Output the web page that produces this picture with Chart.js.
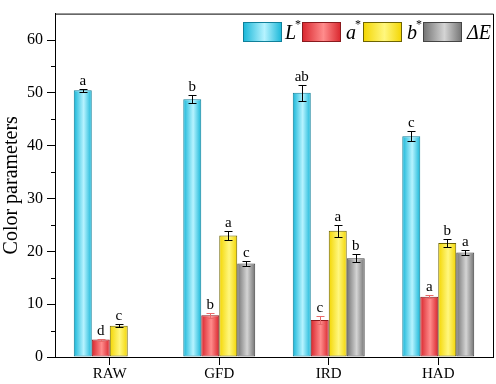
<!DOCTYPE html>
<html>
<head>
<meta charset="utf-8">
<script src="https://cdn.jsdelivr.net/npm/chart.js@4/dist/chart.umd.min.js"></script>
<style>
  html, body { margin: 0; padding: 0; background: #fff; }
</style>
</head>
<body>
<canvas id="chart" width="496" height="384"></canvas>
<script>
// Data
const categories = ['RAW', 'GFD', 'IRD', 'HAD'];
const seriesNames = ['L', 'a', 'b', 'ΔE'];
const lValues = [50.5, 48.8, 50.0, 41.8];
const aValues = [3.3, 7.9, 7.0, 11.4];
const bValues = [5.9, 23.0, 23.9, 21.6];
const eValues = [null, 17.7, 18.7, 19.8];
const lErrors = [0.3, 0.8, 1.5, 0.95];
const aErrors = [0.2, 0.5, 0.8, 0.3];
const bErrors = [0.3, 0.8, 1.1, 0.8];
const eErrors = [0, 0.55, 0.8, 0.5];
const lLetters = ['a', 'b', 'ab', 'c'];
const aLetters = ['d', 'b', 'c', 'a'];
const bLetters = ['c', 'a', 'a', 'b'];
const eLetters = ['', 'c', 'b', 'a'];
const yTicks = [0, 10, 20, 30, 40, 50, 60];
const yMinorTicks = [5, 15, 25, 35, 45, 55];

const catPct = 0.657;
const serif = "'Liberation Serif', 'DejaVu Serif', serif";

// Bar colours: [edge, centre, border, error bar]
const palette = [
  ['#16b6d8', '#b6f3ff', '#10809a', '#000'],
  ['#d9252c', '#ff8c8c', '#8a1a1e', '#e86a6a'],
  ['#f3d500', '#fff77e', '#6e6400', '#000'],
  ['#727272', '#d4d4d4', '#454545', '#000']
];
// legend box left edges
const legendX = [243, 302, 363, 423];

function barGradient(ctx, x0, x1, colors) {
  const g = ctx.createLinearGradient(x0, 0, x1, 0);
  g.addColorStop(0, colors[0]);
  g.addColorStop(0.55, colors[1]);
  g.addColorStop(1, colors[0]);
  return g;
}

function makeFill(dsIndex) {
  return function (c) {
    const xs = c.chart.scales && c.chart.scales.x;
    if (c.type !== 'data' || !xs) return palette[dsIndex][0];
    const w = (xs.width / categories.length) * catPct / seriesNames.length;
    const center = xs.getPixelForValue(c.dataIndex) + (dsIndex - 1.5) * w;
    if (!isFinite(center) || !isFinite(w) || w <= 0) return palette[dsIndex][0];
    return barGradient(c.chart.ctx, center - w / 2, center + w / 2, palette[dsIndex]);
  };
}

const allValues = [lValues, aValues, bValues, eValues];
const allErrors = [lErrors, aErrors, bErrors, eErrors];
const allLetters = [lLetters, aLetters, bLetters, eLetters];

// Error bars and significance letters
const errorBarPlugin = {
  id: 'errorBars',
  afterDatasetsDraw(chart) {
    const ctx = chart.ctx;
    const ys = chart.scales.y;
    ctx.save();
    chart.data.datasets.forEach((ds, di) => {
      const meta = chart.getDatasetMeta(di);
      meta.data.forEach((el, i) => {
        const v = allValues[di][i];
        if (v === null) return;
        const e = allErrors[di][i];
        const x = Math.round(el.x) + 0.5;
        const yt = Math.round(ys.getPixelForValue(v + e)) + 0.5;
        const yb = Math.round(ys.getPixelForValue(v - e)) + 0.5;
        ctx.strokeStyle = palette[di][3];
        ctx.lineWidth = 1;
        ctx.beginPath();
        ctx.moveTo(x, yt); ctx.lineTo(x, yb);
        ctx.moveTo(x - 4, yt); ctx.lineTo(x + 4, yt);
        ctx.moveTo(x - 4, yb); ctx.lineTo(x + 4, yb);
        ctx.stroke();
        ctx.fillStyle = '#000';
        ctx.font = '15px ' + serif;
        ctx.textAlign = 'center';
        ctx.textBaseline = 'bottom';
        ctx.fillText(allLetters[di][i], el.x, yt - 1);
      });
    });
    ctx.restore();
  }
};

// Frame, minor ticks and legend
const framePlugin = {
  id: 'frame',
  afterDraw(chart) {
    const ctx = chart.ctx;
    const a = chart.chartArea;
    const ys = chart.scales.y;
    ctx.save();
    ctx.strokeStyle = '#000';
    ctx.lineWidth = 1;
    ctx.beginPath();
    ctx.moveTo(a.left, a.top + 0.5); ctx.lineTo(a.right + 0.5, a.top + 0.5);
    ctx.lineTo(a.right + 0.5, a.bottom);
    yMinorTicks.forEach(v => {
      const y = Math.round(ys.getPixelForValue(v)) + 0.5;
      ctx.moveTo(a.left - 4, y); ctx.lineTo(a.left, y);
    });
    ctx.stroke();

    // legend
    const y0 = 22, bw = 39, bh = 20;
    seriesNames.forEach((name, di) => {
      let x = legendX[di];
      ctx.fillStyle = barGradient(ctx, x, x + bw, palette[di]);
      ctx.fillRect(x, y0, bw, bh);
      ctx.strokeStyle = palette[di][2];
      ctx.strokeRect(x + 0.5, y0 + 0.5, bw - 1, bh - 1);
      x += bw + (name === 'L' ? 3 : 5);
      ctx.fillStyle = '#000';
      ctx.textAlign = 'left';
      ctx.textBaseline = 'alphabetic';
      ctx.font = 'italic 20px ' + serif;
      ctx.fillText(name, x, y0 + 17);
      x += ctx.measureText(name).width;
      if (name !== 'ΔE') {
        ctx.font = '12px ' + serif;
        ctx.fillText('*', x - 1, y0 + 6);
      }
    });
    ctx.restore();
  }
};

const chart = new Chart(document.getElementById('chart'), {
  type: 'bar',
  data: {
    labels: categories,
    datasets: seriesNames.map((name, di) => ({
      label: name,
      data: allValues[di],
      backgroundColor: makeFill(di),
      borderColor: palette[di][2],
      borderWidth: 1,
      borderSkipped: false,
      barPercentage: 1,
      categoryPercentage: catPct
    }))
  },
  options: {
    responsive: false,
    animation: false,
    devicePixelRatio: 1,
    layout: { padding: { top: 4, right: 3, left: 0, bottom: 0 } },
    plugins: {
      legend: { display: false },
      tooltip: { enabled: false }
    },
    scales: {
      x: {
        offset: true,
        grid: { drawOnChartArea: false, drawTicks: true, tickLength: 8, tickColor: '#000', offset: false },
        border: { color: '#000', width: 1 },
        ticks: { color: '#000', font: { family: serif, size: 15 }, padding: 0 },
        afterFit(scale) { scale.height = 27; }
      },
      y: {
        min: 0,
        max: 65,
        afterBuildTicks(scale) { scale.ticks = yTicks.map(v => ({ value: v })); },
        grid: { drawOnChartArea: false, drawTicks: true, tickLength: 8, tickColor: '#000' },
        border: { color: '#000', width: 1 },
        ticks: { color: '#000', font: { family: serif, size: 16 }, padding: 4 },
        title: {
          display: true,
          text: 'Color parameters',
          color: '#000',
          font: { family: serif, size: 20 },
          padding: 0
        },
        afterFit(scale) { scale.width = 55; }
      }
    }
  },
  plugins: [errorBarPlugin, framePlugin]
});
chart.update();
</script>
</body>
</html>
